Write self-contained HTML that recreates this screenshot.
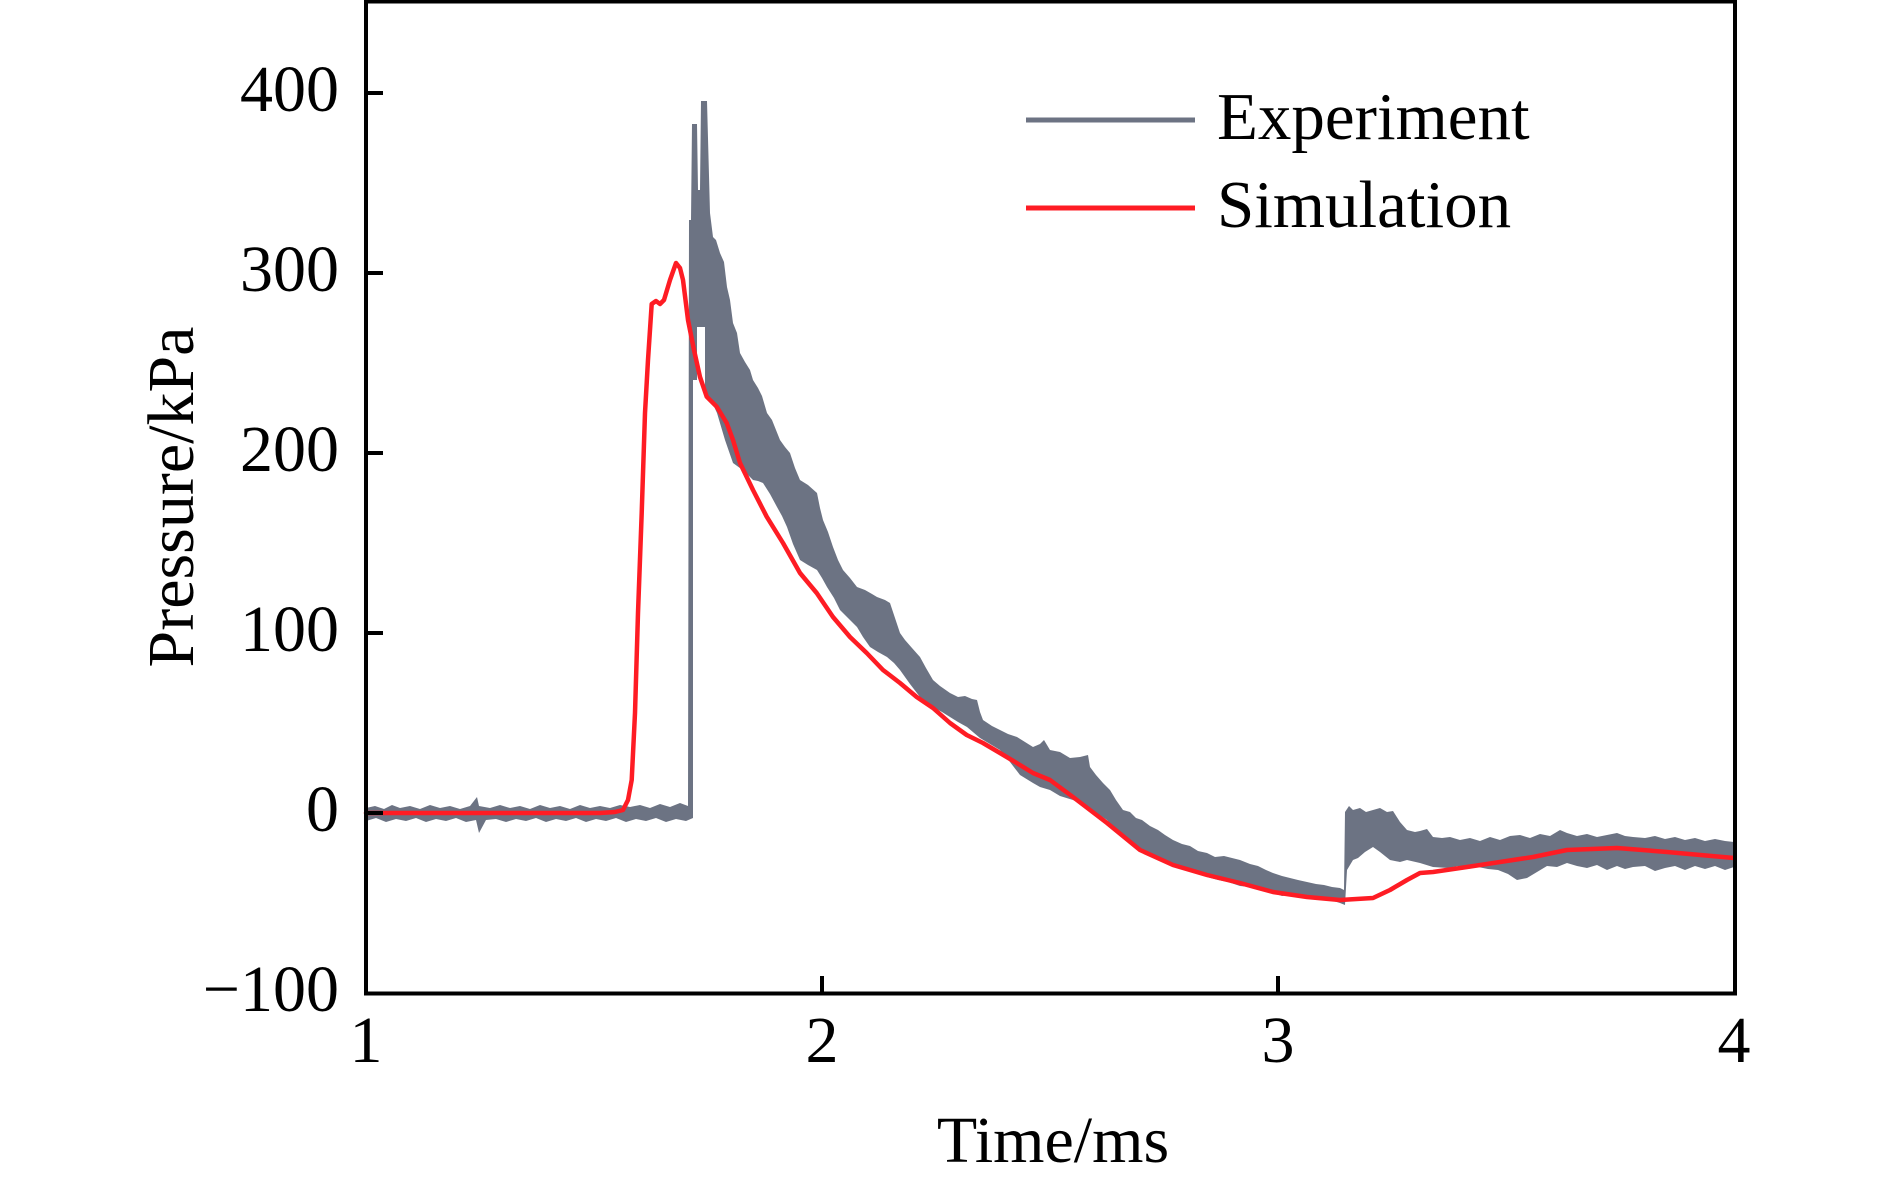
<!DOCTYPE html>
<html><head><meta charset="utf-8"><style>
html,body{margin:0;padding:0;background:#fff;}
svg{display:block;}
text{font-family:"Liberation Serif","Times New Roman",serif;fill:#000;}
</style></head><body>
<svg width="1890" height="1182" viewBox="0 0 1890 1182" xmlns="http://www.w3.org/2000/svg">
<rect width="1890" height="1182" fill="#fff"/>
<!-- Experiment band -->
<polygon fill="#6c7383" points="
366,808 375,806 384,809 392,805 400,808 410,806 420,809 430,805 440,808 450,806 460,809 470,806 477,797 479,806 490,808 500,805 510,808 520,806 530,809 540,805 550,808 560,806 570,809 580,805 590,808 600,806 610,808 620,805 630,807 640,805 650,808 660,804 670,807 680,803 688,806
689,220 691,220 692,124 697,124 698,190 700,190 701,101 707,101 710,213 713,237 716,240 720,253 724,262 727,287 730,300 733,323 737,333 740,353 745,362 750,370 753,380 758,388 762,396 767,413 772,420 776,430 780,440 785,447 790,453 795,468 800,480 808,485 817,493 820,508 823,520 828,532 833,547 838,560 843,570 850,578 857,587 865,590 872,594 877,597 885,600 890,603 895,618 900,633 905,640 912,648 920,657 926,668 933,680 940,686 950,693 958,697 965,696 972,699 977,700 980,712 983,720 992,726 1000,730 1008,734 1017,737 1025,742 1033,747 1040,744 1044,740 1050,750 1060,752 1070,758 1080,757 1088,755 1090,767 1096,775 1103,783 1110,790 1116,800 1123,810 1130,812 1136,818 1142,820 1150,826 1158,830 1165,835 1173,840 1182,844 1190,846 1198,851 1207,853 1215,857 1224,856 1232,858 1240,860 1250,864 1258,866 1266,870 1273,873 1282,876 1290,878 1298,880 1307,882 1316,884 1324,885 1332,887 1340,888 1344,890
1345,812 1349,806 1353,810 1360,808 1366,812 1373,810 1380,808 1387,812 1393,811 1400,822 1407,830 1415,832 1420,831 1427,829 1433,837 1442,838 1450,837 1460,840 1470,838 1480,841 1490,837 1500,840 1510,836 1520,835 1530,838 1540,834 1550,836 1560,830 1567,833 1577,836 1587,834 1597,837 1607,835 1617,833 1625,836 1633,837 1645,838 1655,836 1665,839 1675,837 1685,840 1695,838 1705,841 1715,839 1725,841 1734,842
1734,867 1725,870 1715,866 1705,869 1695,866 1685,870 1675,866 1665,868 1655,871 1645,866 1633,867 1625,869 1617,866 1607,870 1597,865 1587,868 1577,866 1567,863 1557,867 1547,866 1537,872 1527,878 1517,880 1508,874 1498,870 1488,869 1478,867 1468,869 1458,866 1448,868 1433,867 1420,863 1407,860 1400,862 1390,860 1380,852 1373,847 1365,852 1358,858 1353,860 1347,870 1345,905 1340,903 1330,900 1320,899 1310,897 1300,898 1290,895 1282,896 1273,893 1262,890 1250,887 1240,886 1228,882 1218,880 1207,877 1195,872 1185,868 1175,866 1165,860 1152,855 1140,850 1130,842 1120,835 1107,820 1095,812 1085,806 1073,800 1060,796 1050,790 1040,787 1033,783 1020,775 1010,762 1000,750 990,744 980,738 967,727 958,722 950,717 942,712 933,707 926,702 920,697 910,684 900,670 894,663 887,657 878,652 870,647 863,637 857,627 848,618 840,610 834,598 827,587 822,578 817,570 808,565 800,560 793,544 787,527 782,516 777,507 770,494 763,483 758,481 753,480 744,471 733,463 725,440 717,413 711,400 705,390 705,327 697,327 697,380 693,380
693,818 686,821 676,819 666,822 656,818 646,821 636,819 626,822 616,818 606,821 596,819 586,822 576,818 566,821 556,819 546,822 536,818 526,821 516,819 506,822 496,819 486,820 479,833 476,820 466,822 456,818 446,821 436,819 426,822 416,818 406,821 396,819 386,822 376,818 366,821"/>
<!-- Simulation -->
<polyline fill="none" stroke="#fe1c24" stroke-width="4.5" stroke-linejoin="round" stroke-linecap="round" points="
366,813 600,813 615,812 623,810 628,800 631.7,780 635,713 638,613 641.7,513 645,413 648,360 651.7,304 656,301 660,304 664,300 670,280 676,263 680,268 683,280 688,320 694,350 700,377 706.7,396.7 716.7,406.7 726.7,423 733,440 740,463 753,490 766.7,516.7 783,543 800,573 816.7,593 833,617 850,637 866.7,653 883,670 900,683 916.7,697 933,708 950,723 966.7,735 983,743 1000,753 1016.7,763 1033,773 1050,780 1073,797 1107,823 1140,850 1173,865 1207,875 1240,883 1273,892 1307,897 1340,900 1373,898 1390,890 1407,880 1420,873 1433,872 1467,867 1500,862 1533,857 1567,850 1617,848 1667,852 1734,858"/>
<!-- Axes box -->
<rect x="366" y="1.5" width="1369" height="992" fill="none" stroke="#000" stroke-width="4"/>
<!-- Y ticks -->
<g stroke="#000" stroke-width="4">
<line x1="366" y1="93" x2="383" y2="93"/>
<line x1="366" y1="273" x2="383" y2="273"/>
<line x1="366" y1="453" x2="383" y2="453"/>
<line x1="366" y1="633" x2="383" y2="633"/>
<line x1="366" y1="813" x2="383" y2="813"/>
<line x1="822" y1="993" x2="822" y2="976"/>
<line x1="1278" y1="993" x2="1278" y2="976"/>
</g>
<!-- Y tick labels -->
<g font-size="66" text-anchor="end">
<text x="339" y="111">400</text>
<text x="339" y="291">300</text>
<text x="339" y="471">200</text>
<text x="339" y="651">100</text>
<text x="339" y="831">0</text>
<text x="339" y="1011">−100</text>
</g>
<!-- X tick labels -->
<g font-size="66" text-anchor="middle">
<text x="366" y="1062">1</text>
<text x="822" y="1062">2</text>
<text x="1278" y="1062">3</text>
<text x="1734" y="1062">4</text>
</g>
<!-- Axis titles -->
<text x="1053" y="1162" font-size="66" text-anchor="middle">Time/ms</text>
<text transform="translate(193,497) rotate(-90)" font-size="66" text-anchor="middle">Pressure/kPa</text>
<!-- Legend -->
<line x1="1026" y1="120" x2="1195" y2="120" stroke="#6c7383" stroke-width="5"/>
<line x1="1026" y1="208" x2="1195" y2="208" stroke="#fe1c24" stroke-width="5"/>
<text x="1217" y="139" font-size="67">Experiment</text>
<text x="1217" y="227" font-size="67">Simulation</text>
</svg>
</body></html>
